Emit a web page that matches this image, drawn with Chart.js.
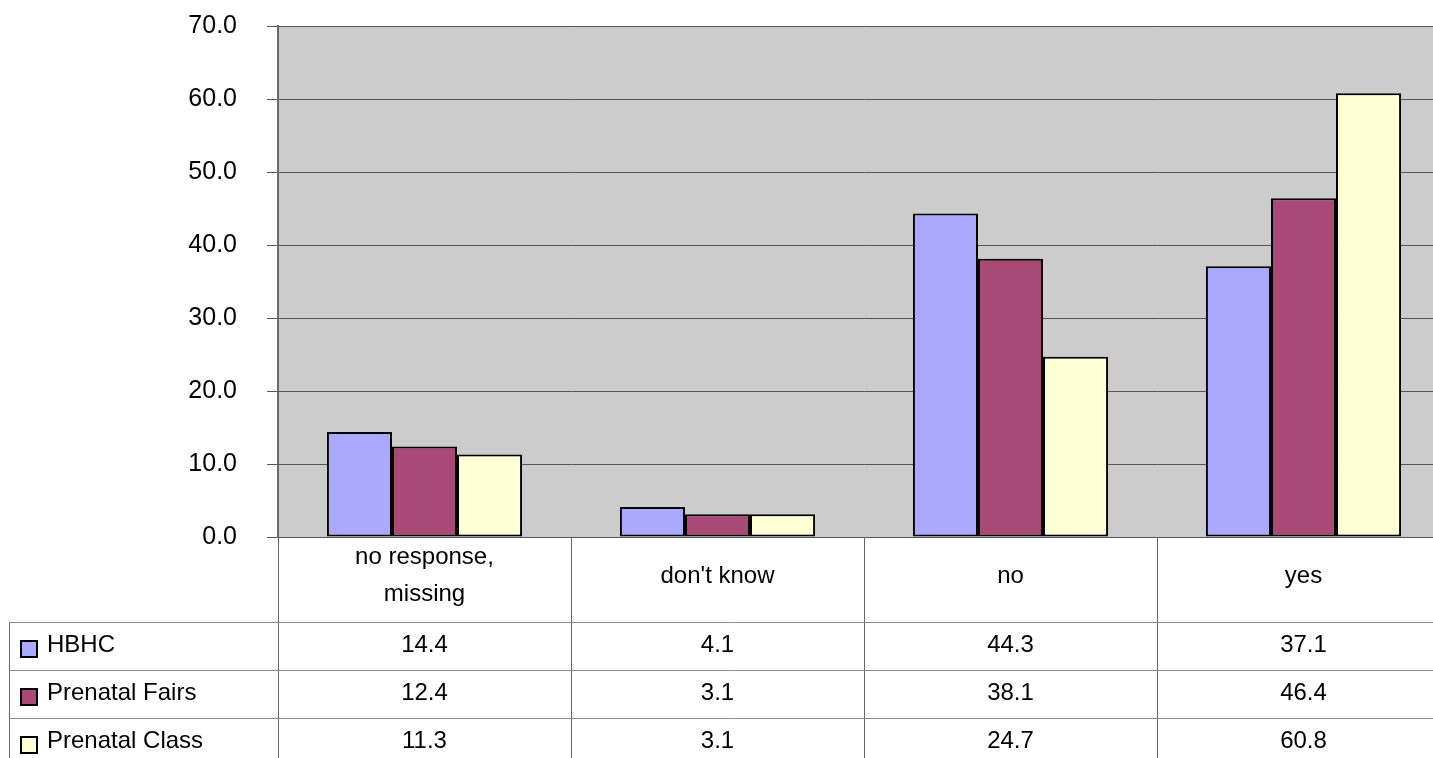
<!DOCTYPE html>
<html>
<head>
<meta charset="utf-8">
<script src="https://cdn.jsdelivr.net/npm/chart.js@4/dist/chart.umd.min.js"></script>
<style>
  html, body { margin: 0; padding: 0; background: #ffffff; overflow: hidden; }
  #wrap { position: relative; width: 1452px; height: 758px; }
</style>
</head>
<body>
<div id="wrap"><canvas id="chart" width="1452" height="758"></canvas></div>
<script>
// Survey responses by program, percent of respondents
const categories = [["no response,", "missing"], ["don't know"], ["no"], ["yes"]];
const seriesNames = ["HBHC", "Prenatal Fairs", "Prenatal Class"];
const hbhc = [14.4, 4.1, 44.3, 37.1];
const prenatalFairs = [12.4, 3.1, 38.1, 46.4];
const prenatalClass = [11.3, 3.1, 24.7, 60.8];
const yTicks = [0, 10, 20, 30, 40, 50, 60, 70];

const seriesValues = [hbhc, prenatalFairs, prenatalClass];
const seriesColors = ["#a9aaff", "#a94a76", "#ffffd6"];

const FONT = '"Liberation Sans", Arial, sans-serif';
const HEADER_H = 85;   // height of the category-label row under the plot
const ROW_H = 48;      // height of each data-table row
const TABLE_LEFT = 9;

// Fill the plot area with the grey backdrop
const plotBackground = {
  id: 'plotBackground',
  beforeDraw(chart) {
    const { ctx, chartArea: a } = chart;
    ctx.save();
    ctx.fillStyle = '#cccccc';
    ctx.fillRect(a.left, a.top, a.right - a.left, a.bottom - a.top);
    ctx.restore();
  }
};

// Data table with legend keys, drawn below the x axis
const dataTable = {
  id: 'dataTable',
  afterDraw(chart) {
    const { ctx, chartArea: a } = chart;
    const x = chart.scales.x;
    const n = categories.length;
    const catW = (a.right - a.left) / n;
    const headerTop = a.bottom;
    const rowsTop = headerTop + HEADER_H;
    const bottom = chart.height;

    ctx.save();
    ctx.lineWidth = 1;
    ctx.strokeStyle = '#666666';

    // vertical dividers
    ctx.beginPath();
    for (let i = 0; i < n; i++) {
      const bx = Math.round(x.getPixelForValue(i) - catW / 2) + 0.5;
      ctx.moveTo(bx, headerTop);
      ctx.lineTo(bx, bottom);
    }
    ctx.moveTo(TABLE_LEFT + 0.5, rowsTop);
    ctx.lineTo(TABLE_LEFT + 0.5, bottom);
    ctx.stroke();

    // horizontal row lines
    ctx.beginPath();
    for (let r = 0; r < seriesNames.length; r++) {
      const y = Math.round(rowsTop + r * ROW_H) + 0.5;
      ctx.moveTo(TABLE_LEFT, y);
      ctx.lineTo(chart.width, y);
    }
    ctx.strokeStyle = '#888888';
    ctx.stroke();

    ctx.fillStyle = '#000000';
    ctx.font = '24px ' + FONT;
    ctx.textAlign = 'center';
    ctx.textBaseline = 'middle';

    // category labels, centred in the header row
    const lineH = 37;
    for (let i = 0; i < n; i++) {
      const cx = x.getPixelForValue(i);
      const lines = categories[i];
      const mid = headerTop + 39;
      lines.forEach((t, k) => {
        ctx.fillText(t, cx, mid + (k - (lines.length - 1) / 2) * lineH);
      });
    }

    // values per series
    for (let r = 0; r < seriesNames.length; r++) {
      const cy = rowsTop + r * ROW_H + 23;
      for (let i = 0; i < n; i++) {
        ctx.fillText(seriesValues[r][i].toFixed(1), x.getPixelForValue(i), cy);
      }
    }

    // legend keys and series names
    ctx.textAlign = 'left';
    for (let r = 0; r < seriesNames.length; r++) {
      const cy = rowsTop + r * ROW_H + 23;
      const ky = Math.round(cy - 5);
      ctx.fillStyle = seriesColors[r];
      ctx.fillRect(20, ky, 17, 17);
      ctx.strokeStyle = '#000000';
      ctx.lineWidth = 2;
      ctx.strokeRect(21, ky + 1, 16, 16);
      ctx.fillStyle = '#000000';
      ctx.fillText(seriesNames[r], 47, cy);
    }
    ctx.restore();
  }
};

new Chart(document.getElementById('chart'), {
  type: 'bar',
  data: {
    labels: categories.map(c => c.join(' ')),
    datasets: seriesNames.map((name, k) => ({
      label: name,
      data: seriesValues[k],
      backgroundColor: seriesColors[k],
      borderColor: '#000000',
      borderWidth: 2,
      borderSkipped: false,
      categoryPercentage: 0.666,
      barPercentage: 1.0
    }))
  },
  options: {
    responsive: false,
    animation: false,
    devicePixelRatio: 1,
    layout: { padding: { top: 26, right: 2, bottom: 0, left: 0 } },
    plugins: {
      legend: { display: false },
      tooltip: { enabled: false }
    },
    scales: {
      x: {
        ticks: { display: false },
        grid: { display: false, drawTicks: false },
        border: { display: false },
        afterFit(scale) { scale.height = 758 - 537; }
      },
      y: {
        min: 0,
        max: 70,
        afterBuildTicks(scale) { scale.ticks = yTicks.map(v => ({ value: v })); },
        ticks: {
          color: '#000000',
          padding: 30,
          font: { family: FONT, size: 25 },
          callback: v => Number(v).toFixed(1)
        },
        grid: { color: '#555555', lineWidth: 1, tickLength: 11, drawTicks: true },
        border: { display: true, color: '#6a6a6a', width: 2 },
        afterFit(scale) {
          scale.width = 278;
          scale.paddingTop = 0;
          scale.paddingBottom = 0;
        }
      }
    }
  },
  plugins: [plotBackground, dataTable]
});
</script>
</body>
</html>
